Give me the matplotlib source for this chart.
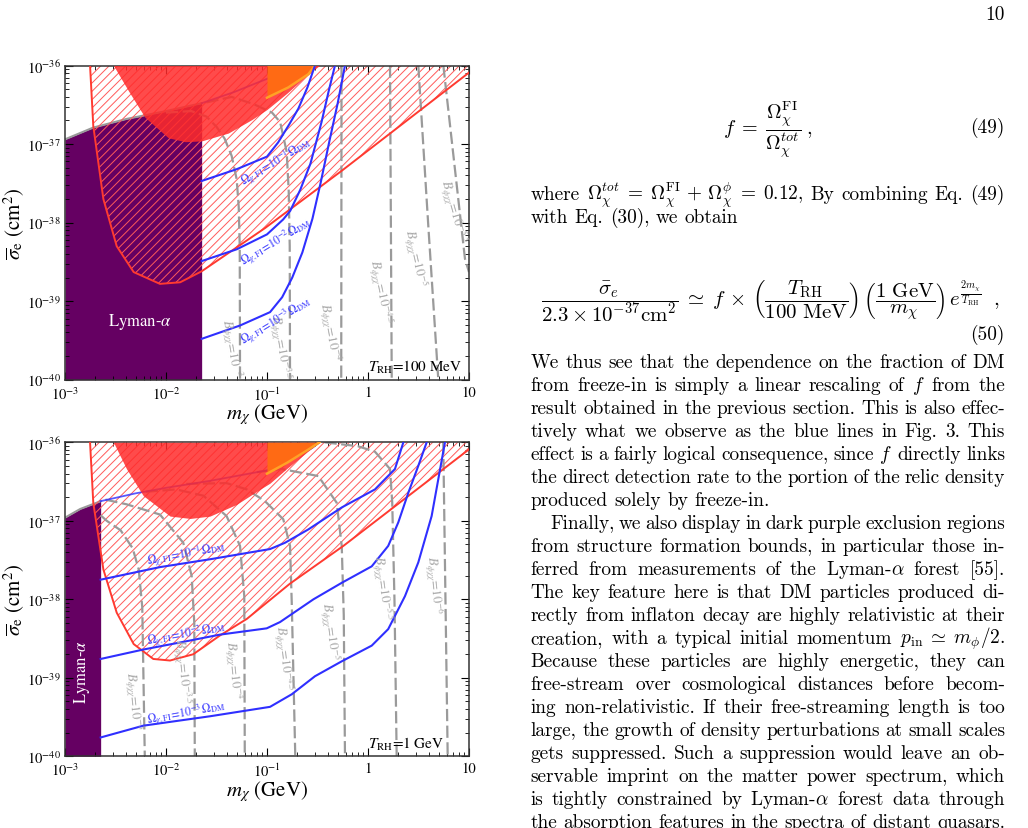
#!/usr/bin/env python3
"""
Page 10 : sigma_e vs m_chi for two reheating temperatures, plus the text column.
"""
import re
import numpy as np
import matplotlib
matplotlib.use("Agg")
import matplotlib.pyplot as plt
from matplotlib.ticker import FixedLocator, FixedFormatter, LogLocator, NullFormatter

W, H = 1028, 829

# --- Data : log10 m_chi [GeV] , log10 sigma_e [cm^2] -------------------

x_ticks = [-3, -2, -1, 0, 1]
x_ticklabels = [r"$10^{-3}$", r"$10^{-2}$", r"$10^{-1}$", "1", "10"]
y_ticks = [-40, -39, -38, -37, -36]
y_ticklabels = [r"$10^{-40}$", r"$10^{-39}$", r"$10^{-38}$", r"$10^{-37}$", r"$10^{-36}$"]

# panel a : T_RH = 100 MeV
a_lya_x = [-3, -2.72, -2.39, -2.0, -1.647]
a_lya_y = [-36.94, -36.79, -36.68, -36.58, -36.48]
a_red_x = [-2.752, -2.72, -2.62, -2.488, -2.32, -2.06, -1.86, -1.647, -1.02, -0.26, 1.0]
a_red_y = [-36.0, -36.77, -37.70, -38.30, -38.63, -38.78, -38.76, -38.62, -38.07, -37.34, -36.09]
a_blob_x = [-2.52, -2.373, -2.208, -1.977, -1.81, -1.647, -1.383, -1.152, -1.0, -0.8, -0.6, -0.48]
a_blob_y = [-36.0, -36.32, -36.66, -36.92, -36.97, -36.96, -36.86, -36.69, -36.56, -36.35, -36.12, -36.0]
a_or_x = [-1.0, -0.79, -0.59, -0.525]
a_or_y = [-36.41, -36.28, -36.11, -36.0]
a_f1_x = [-1.647, -1.33, -1.02, -0.66]
a_f1_y = [-36.48, -36.34, -36.18, -36.0]
a_f01_x = [-1.647, -1.30, -1.0, -0.89, -0.78, -0.69, -0.60, -0.525]
a_f01_y = [-37.47, -37.32, -37.16, -36.98, -36.75, -36.55, -36.28, -36.0]
a_f001_x = [-1.647, -1.30, -1.0, -0.84, -0.77, -0.67, -0.57, -0.46, -0.39, -0.327]
a_f001_y = [-38.49, -38.34, -38.15, -37.96, -37.85, -37.58, -37.25, -36.72, -36.33, -36.0]
a_f0001_x = [-1.647, -1.267, -0.97, -0.85, -0.75, -0.65, -0.55, -0.47, -0.38, -0.30, -0.228]
a_f0001_y = [-39.48, -39.31, -39.14, -38.95, -38.7, -38.38, -37.95, -37.5, -36.95, -36.48, -36.0]
a_B_x = [
    [-2.0, -1.75, -1.6, -1.5, -1.42, -1.35, -1.30, -1.28, -1.27, -1.267],
    [-1.6, -1.35, -1.135, -0.95, -0.87, -0.805, -0.785, -0.775, -0.772],
    [-0.262, -0.265],
    [0.218, 0.235],
    [0.498, 0.597, 0.696],
    [0.746, 0.96, 1.0],
]
a_B_y = [
    [-36.6, -36.58, -36.65, -36.78, -36.93, -37.15, -37.45, -37.8, -38.3, -40],
    [-36.47, -36.40, -36.49, -36.6, -36.72, -37.1, -37.6, -38.3, -40],
    [-36, -40],
    [-36, -40],
    [-36, -38.04, -40],
    [-36, -38.46, -38.63],
]
a_B_names = ["-3", "-3.5", "-4", "-4.5", "-5", "-5.5"]
a_B_lab_x = [-1.35, -0.871, -0.376, 0.119, 0.465, 0.845]
a_B_lab_y = [-39.59, -39.58, -39.38, -38.87, -38.44, -37.85]
a_B_rot = [-80, -80, -79, -78, -77, -74]
a_om_lab_x = [-0.904, -0.904, -0.904]
a_om_lab_y = [-37.22, -38.24, -39.25]

# panel b : T_RH = 1 GeV
b_lya_x = [-3, -2.85, -2.647]
b_lya_y = [-36.96, -36.85, -36.75]
b_red_x = [-2.752, -2.72, -2.62, -2.488, -2.32, -2.126, -1.96, -1.73, -1.465, -1.2, -0.772, -0.244, 1.0]
b_red_y = [-36.0, -36.77, -37.62, -38.17, -38.57, -38.76, -38.78, -38.70, -38.46, -38.25, -37.80, -37.32, -36.09]
b_blob_x = [-2.52, -2.39, -2.225, -1.96, -1.76, -1.564, -1.30, -1.07, -0.97, -0.8, -0.6, -0.48]
b_blob_y = [-36.0, -36.34, -36.68, -36.94, -36.97, -36.94, -36.79, -36.60, -36.52, -36.33, -36.12, -36.0]
b_or_x = [-1.0, -0.8, -0.6, -0.48]
b_or_y = [-36.40, -36.26, -36.10, -36.0]
b_f1_x = [-2.647, -2.3, -2.0, -1.56, -0.97, -0.75, -0.55, -0.48]
b_f1_y = [-36.75, -36.65, -36.58, -36.49, -36.35, -36.22, -36.07, -36.0]
b_f01_x = [-2.647, -2.06, -1.564, -0.97, -0.822, -0.591, -0.26, 0.069, 0.267, 0.35]
b_f01_y = [-37.75, -37.59, -37.49, -37.36, -37.28, -37.11, -36.83, -36.6, -36.34, -36.0]
b_f001_x = [-2.647, -2.225, -1.861, -1.465, -1.003, -0.871, -0.54, -0.26, 0.037, 0.20, 0.30, 0.40, 0.498, 0.581]
b_f001_y = [-38.76, -38.64, -38.55, -38.45, -38.37, -38.29, -38.0, -37.79, -37.58, -37.32, -37.02, -36.64, -36.30, -36.0]
b_f0001_x = [-2.647, -2.225, -1.564, -0.97, -0.755, -0.525, -0.26, 0.037, 0.20, 0.366, 0.498, 0.63, 0.696, 0.762]
b_f0001_y = [-39.76, -39.61, -39.49, -39.37, -39.21, -38.98, -38.79, -38.59, -38.38, -37.96, -37.53, -36.94, -36.47, -36.0]
b_B_x = [
    [-2.647, -2.587, -2.45, -2.33, -2.27, -2.235, -2.21],
    [-2.6, -2.39, -2.06, -1.829, -1.746, -1.72, -1.715],
    [-2.2, -1.9, -1.63, -1.40, -1.267, -1.225, -1.22],
    [-1.8, -1.4, -1.2, -1.02, -0.839, -0.772, -0.755, -0.72],
    [-1.1, -0.855, -0.492, -0.31, -0.26, -0.24, -0.228],
    [-0.43, -0.1, 0.069, 0.218, 0.24, 0.262, 0.284],
    [0.745, 0.789],
]
b_B_y = [
    [-36.93, -37.0, -37.12, -37.35, -37.62, -38.1, -40],
    [-36.73, -36.79, -36.92, -37.28, -37.70, -38.30, -40],
    [-36.63, -36.6, -36.68, -36.94, -37.32, -37.96, -40],
    [-36.53, -36.52, -36.6, -36.75, -36.98, -37.32, -38.04, -40],
    [-36.38, -36.34, -36.43, -36.77, -37.32, -38.2, -40],
    [-36.0, -36.05, -36.12, -36.34, -36.77, -38.0, -40],
    [-36.0, -40],
]
b_B_names = ["-3", "-3.5", "-4", "-4.5", "-5", "-5.5", "-6"]
b_B_lab_x = [-2.324, -1.845, -1.334, -0.839, -0.376, 0.136, 0.647]
b_B_lab_y = [-39.29, -38.91, -38.89, -38.74, -38.40, -37.85, -37.81]
b_B_rot = [-84, -84, -84, -83, -82, -82, -84]
b_om_lab_x = [-1.795, -1.795, -1.795]
b_om_lab_y = [-37.42, -38.44, -39.44]

om_names = ["-1", "-2", "-3"]

# --- Text column ------------------------------------------------------

page_lines = [
    ("We thus see that the dependence on the fraction of DM", True),
    ("from freeze-in is simply a linear rescaling of $f$ from the", True),
    ("result obtained in the previous section. This is also effec-", True),
    ("tively what we observe as the blue lines in Fig. 3. This", True),
    ("effect is a fairly logical consequence, since $f$ directly links", True),
    ("the direct detection rate to the portion of the relic density", True),
    ("produced solely by freeze-in.", False),
    ("Finally, we also display in dark purple exclusion regions", True),
    ("from structure formation bounds, in particular those in-", True),
    (r"ferred from measurements of the Lyman-$\alpha$ forest [55].", True),
    ("The key feature here is that DM particles produced di-", True),
    ("rectly from inflaton decay are highly relativistic at their", True),
    (r"creation, with a typical initial momentum $p_{\rm in}\;\simeq\;m_\phi/2$.", True),
    ("Because these particles are highly energetic, they can", True),
    ("free-stream over cosmological distances before becom-", True),
    ("ing non-relativistic. If their free-streaming length is too", True),
    ("large, the growth of density perturbations at small scales", True),
    ("gets suppressed. Such a suppression would leave an ob-", True),
    ("servable imprint on the matter power spectrum, which", True),
    (r"is tightly constrained by Lyman-$\alpha$ forest data through", True),
    ("the absorption features in the spectra of distant quasars.", True),
]
where_lines = [
    (r"where $\Omega_\chi^{tot}\;=\;\Omega_\chi^{\rm FI}\,+\,\Omega_\chi^{\phi}\;=\;0.12$, By combining Eq. (49)", True),
    ("with Eq. (30), we obtain", False),
]
eq49 = r"$f\;=\;\dfrac{\Omega_\chi^{\rm FI}}{\Omega_\chi^{tot}}\;,$"
eq50 = (r"$\dfrac{\bar{\sigma}_e}{2.3\times10^{-37}{\rm cm}^2}\;\simeq\;f\,\times\,"
        r"\left(\dfrac{T_{\rm RH}}{100\ {\rm MeV}}\right)\,\left(\dfrac{1\ {\rm GeV}}{m_\chi}\right)\,"
        r"e^{\frac{2m_\chi}{T_{\rm RH}}}\;\;,$")

# --- Style ------------------------------------------------------------

PURPLE = "#650062"
BLOB = "#ff2b2b"
HATCH = "#ff5a5a"
RED = "#ff3a30"
ORANGE = "#ff6a14"
ORANGE_EDGE = "#ffa225"
BLUE = "#2f2fff"
GRAY = "#9a9a9a"

plt.rcParams["mathtext.fontset"] = "stix"
plt.rcParams["font.family"] = "STIXGeneral"
plt.rcParams["hatch.linewidth"] = 0.7


def P(a):
    return 10.0 ** np.asarray(a, dtype=float)


def panel(ax, d):
    ax.fill_between(P(d["lya_x"]), 1e-40, P(d["lya_y"]), color=PURPLE, lw=0, zorder=1)
    ax.plot(P(d["lya_x"]), P(d["lya_y"]), color=GRAY, lw=1.5, zorder=1.2)
    ax.fill_between(P(d["red_x"]), P(d["red_y"]), 1e-36, facecolor="none",
                    edgecolor=HATCH, hatch="////", lw=0, zorder=2)
    for bx, by in zip(d["B_x"], d["B_y"]):
        ax.plot(P(bx), P(by), color=GRAY, lw=1.6, ls=(0, (5.5, 2.0)), zorder=2.5)
    ax.plot(P(d["f1_x"]), P(d["f1_y"]), color=BLUE, lw=1.3, alpha=0.8, zorder=2.6)
    ax.fill_between(P(d["blob_x"]), P(d["blob_y"]), 1e-36, color=BLOB, alpha=0.85, lw=0, zorder=3)
    ax.fill_between(P(d["or_x"]), P(d["or_y"]), 1e-36, color=ORANGE, lw=0, zorder=3.1)
    ax.plot(P(d["or_x"]), P(d["or_y"]), color=ORANGE_EDGE, lw=1.8, zorder=3.2)
    ax.plot(P(d["red_x"]), P(d["red_y"]), color=RED, lw=1.4, zorder=4)
    for fx, fy in d["blue"]:
        ax.plot(P(fx), P(fy), color=BLUE, lw=1.5, zorder=5)

    for name, lx, ly, rot in zip(d["B_names"], d["B_lab_x"], d["B_lab_y"], d["B_rot"]):
        ax.text(P(lx), P(ly), r"$B_{\phi\chi\chi}\!=\!10^{%s}$" % name, color="#a8a8a8",
                fontsize=9.5, rotation=rot, rotation_mode="anchor", ha="center", va="center", zorder=6)
    for name, lx, ly in zip(om_names, d["om_x"], d["om_y"]):
        ax.text(P(lx), P(ly), r"$\Omega_{\chi,{\rm FI}}\!=\!10^{%s}\,\Omega_{\rm DM}$" % name,
                color="#3a3aff", fontsize=8.5, rotation=d["om_rot"], rotation_mode="anchor",
                ha="center", va="center", zorder=6)

    ax.text(P(d["lya_lab"][0]), P(d["lya_lab"][1]), r"Lyman-$\alpha$", color="white",
            fontsize=12, rotation=d["lya_lab"][2], ha="center", va="center", zorder=6)
    ax.text(1.0, P(-39.83), d["trh"], fontsize=11, ha="left", va="center", zorder=6)

    ax.set_xscale("log")
    ax.set_yscale("log")
    ax.set_xlim(1e-3, 10)
    ax.set_ylim(1e-40, 1e-36)
    ax.xaxis.set_major_locator(FixedLocator(P(x_ticks)))
    ax.xaxis.set_major_formatter(FixedFormatter(x_ticklabels))
    ax.yaxis.set_major_locator(FixedLocator(P(y_ticks)))
    ax.yaxis.set_major_formatter(FixedFormatter(y_ticklabels))
    for axis in (ax.xaxis, ax.yaxis):
        axis.set_minor_locator(LogLocator(base=10, subs=np.arange(2, 10), numticks=100))
        axis.set_minor_formatter(NullFormatter())
    ax.tick_params(which="both", direction="in", top=True, right=True, labelsize=10.5)
    ax.tick_params(which="major", length=6, width=0.8)
    ax.tick_params(which="minor", length=3, width=0.6)
    ax.tick_params(axis="x", pad=4)
    ax.tick_params(axis="y", pad=3)
    for s in ax.spines.values():
        s.set_linewidth(1.1)
        s.set_color("#333333")
    ax.set_xlabel(r"$m_\chi$ (GeV)", fontsize=15, labelpad=-1)
    ax.set_ylabel(r"$\overline{\sigma}_{\rm e}$ (cm$^2$)", fontsize=15)
    ax.yaxis.set_label_coords(-0.094, 0.5)


panel_a = dict(lya_x=a_lya_x, lya_y=a_lya_y, red_x=a_red_x, red_y=a_red_y,
               blob_x=a_blob_x, blob_y=a_blob_y, or_x=a_or_x, or_y=a_or_y,
               f1_x=a_f1_x, f1_y=a_f1_y,
               blue=[(a_f01_x, a_f01_y), (a_f001_x, a_f001_y), (a_f0001_x, a_f0001_y)],
               B_x=a_B_x, B_y=a_B_y, B_names=a_B_names, B_lab_x=a_B_lab_x, B_lab_y=a_B_lab_y,
               B_rot=a_B_rot, om_x=a_om_lab_x, om_y=a_om_lab_y, om_rot=31,
               lya_lab=(-2.257, -39.25, 0), trh=r"$T_{\rm RH}$=100 MeV")
panel_b = dict(lya_x=b_lya_x, lya_y=b_lya_y, red_x=b_red_x, red_y=b_red_y,
               blob_x=b_blob_x, blob_y=b_blob_y, or_x=b_or_x, or_y=b_or_y,
               f1_x=b_f1_x, f1_y=b_f1_y,
               blue=[(b_f01_x, b_f01_y), (b_f001_x, b_f001_y), (b_f0001_x, b_f0001_y)],
               B_x=b_B_x, B_y=b_B_y, B_names=b_B_names, B_lab_x=b_B_lab_x, B_lab_y=b_B_lab_y,
               B_rot=b_B_rot, om_x=b_om_lab_x, om_y=b_om_lab_y, om_rot=10.5,
               lya_lab=(-2.835, -38.91, 90), trh=r"$T_{\rm RH}$=1 GeV")

fig = plt.figure(figsize=(W / 100, H / 100), dpi=100)
ax1 = fig.add_axes([65 / W, 1 - 380.7 / H, 404 / W, 314.2 / H])
ax2 = fig.add_axes([65 / W, 1 - 757.3 / H, 404 / W, 314.0 / H])
panel(ax1, panel_a)
panel(ax2, panel_b)

# --- Text column ------------------------------------------------------

PAGE_FS = 13.9
X0, X1 = 530.7, 1005.0
renderer = fig.canvas.get_renderer()


def page_text(x, y, s, size=PAGE_FS, **kw):
    return fig.text(x / W, 1 - y / H, s, fontsize=size, family="cmr10",
                    math_fontfamily="cm", **kw)


def put_line(line, y, x0, justify):
    words = re.findall(r"\S*\$[^$]*\$\S*|\S+", line)
    ts = [page_text(0, y, w, va="baseline") for w in words]
    ws = [t.get_window_extent(renderer).width for t in ts]
    gap = PAGE_FS * 1.389 * 0.333
    if justify and len(ws) > 1:
        gap = (X1 - x0 - sum(ws)) / (len(ws) - 1)
    x = x0
    for t, w in zip(ts, ws):
        t.set_x(x / W)
        x += w + gap


page_text(X1, 15, "10", ha="right", va="center")
page_text(768, 130, eq49, size=14.5, ha="center", va="center")
page_text(X1, 128, "(49)", ha="right", va="center")
for i, (line, just) in enumerate(where_lines):
    put_line(line, 200 + i * 23.0, X0, just)
page_text(770, 301, eq50, size=15.0, ha="center", va="center")
page_text(X1, 335, "(50)", ha="right", va="center")
for i, (line, just) in enumerate(page_lines):
    x0 = X0 + 19.3 if i == 7 else X0
    put_line(line, 368 + i * 23.0, x0, just)

fig.savefig("out.png", dpi=100)
